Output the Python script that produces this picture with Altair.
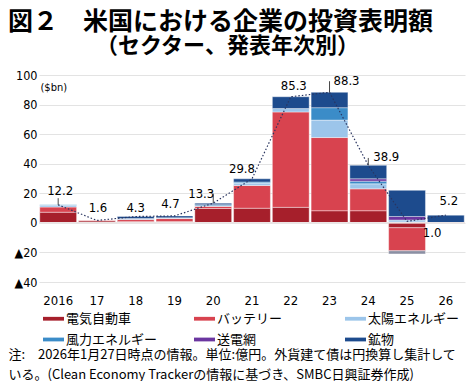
import altair as alt
import pandas as pd

# ---------------- data ----------------
years = ["2016", "17", "18", "19", "20", "21", "22", "23", "24", "25", "26"]
sectors = ["電気自動車", "バッテリー", "太陽エネルギー", "風力エネルギー", "送電網", "鉱物", "その他"]

ev      = [7.2, 1.3, 1.0, 0.9, 9.7, 9.9, 10.5, 8.2, 8.2, -3.3, 0.0]
battery = [3.5, 0.3, 1.3, 2.0, 1.5, 15.4, 64.5, 49.5, 14.8, -15.6, 0.0]
solar   = [1.2, 0.0, 0.6, 0.5, 0.3, 1.6, 2.3, 11.8, 3.4, 1.4, 0.0]
wind    = [0.3, 0.0, 0.0, 0.0, 0.8, 0.7, 0.0, 8.4, 1.8, 0.5, 0.0]
grid    = [0.0, 0.0, 0.0, 0.0, 0.0, 0.0, 0.0, 0.0, 1.6, 2.4, 0.0]
mineral = [0.0, 0.0, 1.4, 1.3, 1.0, 2.2, 8.0, 10.4, 9.1, 17.7, 5.2]
other   = [0.0, 0.0, 0.0, 0.0, 0.0, 0.0, 0.0, 0.0, 0.0, -2.1, 0.0]

totals = [12.2, 1.6, 4.3, 4.7, 13.3, 29.8, 85.3, 88.3, 38.9, 1.0, 5.2]
total_text = ["12.2", "1.6", "4.3", "4.7", "13.3", "29.8", "85.3", "88.3", "38.9", "1.0", "5.2"]

y_ticks = [-40, -20, 0, 20, 40, 60, 80, 100]

title_line1 = "図２　米国における企業の投資表明額"
title_line2 = "\u200b　　　\u2002\u2002（セクター、発表年次別）"
note_lines = [
    "注:　2026年1月27日時点の情報。単位:億円。外貨建て債は円換算し集計して",
    "いる。(Clean Economy Trackerの情報に基づき、SMBC日興証券作成)",
]

# ---------------- styles ----------------
colors = ["#a61f2b", "#d8434f", "#9cc5ea", "#3b8cc8", "#6b36a0", "#1d4b8d", "#8b8fa3"]
NARROW = "Liberation Sans Narrow, DejaVu Sans Condensed, Liberation Sans, sans-serif"
CJK = "Noto Sans CJK JP"
label_offsets = {"2016": (2, -14), "17": (1, -12), "18": (0, -8), "19": (-4, -12),
                 "20": (-12, -9), "21": (-10, -10), "22": (3, -11), "23": (17, -11),
                 "24": (18, -8), "25": (25, 12), "26": (3, -14)}
leader_len = {"2016": 4.5, "20": 6.5, "23": 7.5, "24": 5.0}

# ---------------- tables ----------------
series = [ev, battery, solar, wind, grid, mineral, other]
rows = []
for si, (name, vals) in enumerate(zip(sectors, series)):
    for yr, v in zip(years, vals):
        if v != 0:
            rows.append({"year": yr, "sector": name, "value": v, "ord": si})
df = pd.DataFrame(rows)

tot = pd.DataFrame({"year": years, "total": totals, "text": total_text})
lead = tot[tot["year"].isin(leader_len.keys())].copy()
lead["top"] = [t + leader_len[y] for y, t in zip(lead["year"], lead["total"])]

x_scale = alt.Scale(paddingInner=0.05, paddingOuter=0.02)
y_scale = alt.Scale(domain=[-40, 100], nice=False)

x_axis = alt.Axis(labelAngle=0, domain=False, ticks=False, tickSize=0,
                  labelPadding=12, labelFont=NARROW, labelFontSize=13,
                  labelColor="black", grid=False,
                  title=note_lines, titleX=-31, titleY=66,
                  titleAlign="left", titleBaseline="top",
                  titleFont=CJK, titleFontSize=13, titleFontWeight="normal",
                  titleColor="black", titleLineHeight=20)

y_axis = alt.Axis(values=y_ticks, labelOverlap=False,
                  labelExpr="datum.value < 0 ? '▲' + abs(datum.value) : datum.value",
                  domain=False, ticks=False, tickSize=0, grid=True,
                  gridColor="#dcdcdc", gridWidth=0.8, labelPadding=2,
                  labelFont=NARROW, labelFontSize=12.5, labelColor="black",
                  title="($bn)", titleAngle=0, titleX=1, titleY=12,
                  titleAlign="left", titleBaseline="middle",
                  titleFont=NARROW, titleFontSize=11,
                  titleFontWeight="normal", titleColor="black")


def xe():
    return alt.X("year:N", sort=years, scale=x_scale, axis=x_axis)


def ye(field, **kw):
    return alt.Y(field, scale=y_scale, axis=y_axis, **kw)


bars = alt.Chart(df).mark_bar(stroke="white", strokeWidth=0.4).encode(
    x=xe(),
    y=ye("value:Q", stack="zero"),
    color=alt.Color("sector:N", scale=alt.Scale(domain=sectors, range=colors),
                    legend=alt.Legend(orient="none", legendX=4, legendY=233,
                                      direction="horizontal",
                                      columns=3, title=None, values=sectors[:6],
                                      symbolType="M-1,-0.18H1V0.18H-1Z",
                                      symbolSize=441, symbolStrokeWidth=0,
                                      labelFont=CJK, labelFontSize=13,
                                      labelColor="black", labelOffset=2,
                                      columnPadding=36, rowPadding=3,
                                      gridAlign="all", padding=0)),
    order=alt.Order("ord:Q"),
)

zero = alt.Chart(pd.DataFrame({"y": [0]})).mark_rule(
    color="#ece4e4", strokeWidth=1.5).encode(y=ye("y:Q"))

dots = alt.Chart(tot).mark_line(color="#2a3560", strokeDash=[1.5, 2], strokeWidth=1.2).encode(
    x=xe(), y=ye("total:Q"))

leaders = alt.Chart(lead).mark_rule(color="#333333", strokeWidth=0.9).encode(
    x=xe(), y=ye("total:Q"), y2="top:Q")

labels = []
for yr in years:
    dx, dy = label_offsets[yr]
    labels.append(
        alt.Chart(tot[tot["year"] == yr]).mark_text(
            font=NARROW, fontSize=13, color="black", dx=dx, dy=dy,
            align="center", baseline="middle").encode(
            x=xe(), y=ye("total:Q"), text="text:N"))

chart = alt.layer(bars, zero, dots, leaders, *labels).properties(
    width=426, height=207,
    padding={"top": 2, "left": 0, "right": 0, "bottom": 0},
    background="white",
    title=alt.Title(text=title_line1, subtitle=title_line2, anchor="start",
                    frame="group", dx=-31, font=CJK, fontSize=25, fontWeight="bold",
                    color="black", subtitleFont=CJK, subtitleFontSize=22,
                    subtitleFontWeight="bold", subtitleColor="black",
                    subtitlePadding=1, offset=12),
).configure_view(stroke=None)

chart.save("out.html", embed_options={"renderer": "svg", "actions": False})
